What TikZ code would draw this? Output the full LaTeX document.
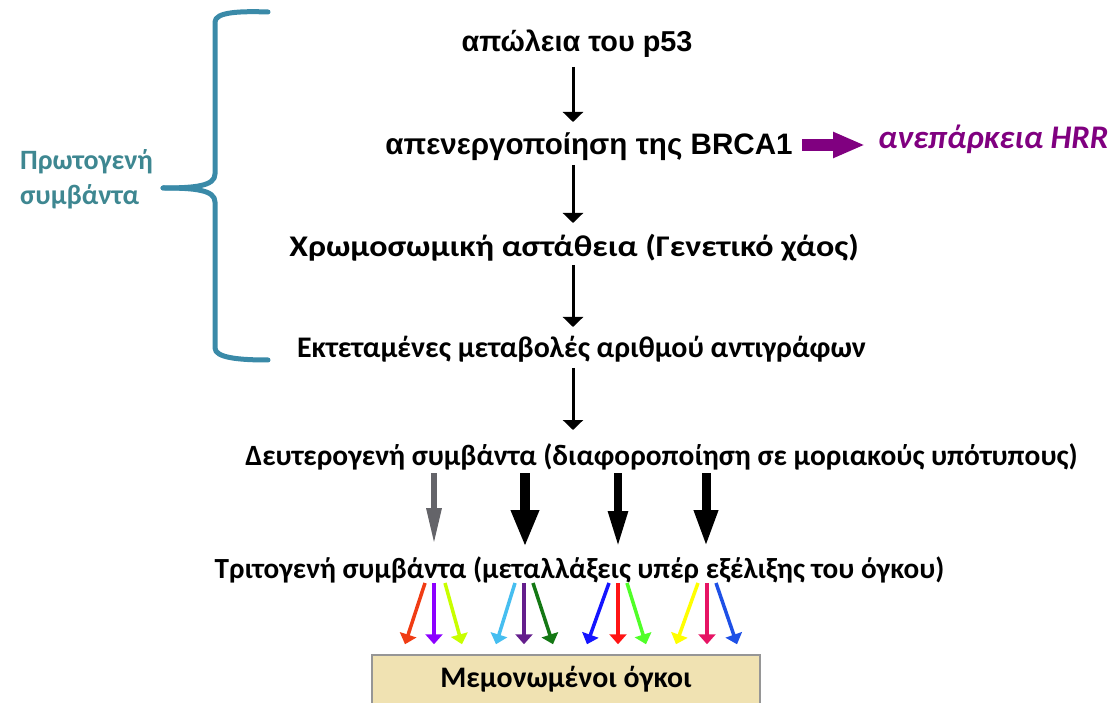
\documentclass[tikz,border=0pt]{standalone}
\usepackage{fontspec}
\usepackage{graphicx}
\setmainfont{Carlito}
\newfontfamily\arialf{Liberation Sans}
\usetikzlibrary{arrows.meta,calc}
\definecolor{bracecol}{RGB}{58,138,168}
\definecolor{primcol}{RGB}{62,135,145}
\definecolor{purp}{RGB}{128,0,128}
\definecolor{boxfill}{RGB}{240,226,178}
\definecolor{boxline}{RGB}{150,150,150}
\definecolor{grayarr}{RGB}{100,100,105}
\definecolor{cA}{RGB}{240,60,20}
\definecolor{cB}{RGB}{140,0,255}
\definecolor{cC}{RGB}{200,255,0}
\definecolor{cD}{RGB}{70,190,240}
\definecolor{cE}{RGB}{100,30,140}
\definecolor{cF}{RGB}{20,120,20}
\definecolor{cG}{RGB}{20,20,255}
\definecolor{cH}{RGB}{255,20,20}
\definecolor{cI}{RGB}{80,255,40}
\definecolor{cJ}{RGB}{255,255,0}
\definecolor{cK}{RGB}{230,20,100}
\definecolor{cL}{RGB}{30,80,230}
\begin{document}
\begin{tikzpicture}[x=1pt,y=1pt,
  arialtxt/.style={font=\arialf\bfseries\fontsize{#1}{32}\selectfont, inner sep=0pt, anchor=base},
  calitxt/.style={font=\bfseries\fontsize{#1}{33}\selectfont, inner sep=0pt, anchor=base},
  blackarr/.style={draw=black, line width=3pt, -{Triangle[length=10pt,width=20pt]}},
  fatarr/.style={draw=black, line width=#1, -{Triangle[length=37pt,width=2.6*#1]}},
  colarr/.style={line width=3.5pt, -{Triangle[length=10pt,width=17pt]}},
  purparr/.style={draw=purp, line width=12pt, -{Triangle[length=32pt,width=24pt]}},
  bracestyle/.style={draw=bracecol, line width=5pt, line cap=round, line join=round},
  boxstyle/.style={draw=boxline, line width=1.5pt, fill=boxfill, minimum width=388pt,
    text height=20pt, text depth=6pt, inner ysep=12pt, anchor=base,
    font=\bfseries\fontsize{29.8}{33}\selectfont}
]
\useasboundingbox (0,0) rectangle (1115,702);

% nodes
\node[arialtxt=28.8] (p53) at (577,650) {απώλεια του p53};
\node[arialtxt=29.6] (brca) at (589,547) {απενεργοποίηση της BRCA1};
\node[font=\bfseries\itshape\fontsize{33}{36}\selectfont, text=purp, inner sep=0pt, anchor=base west] (hrr) at (878,553) {ανεπάρκεια HRR};
\node[calitxt=30] (chrom) at (574,445) {\scalebox{1.133}[1]{Χρωμοσωμική αστάθεια (Γενετικό χάος)}};
\node[calitxt=29.9] (ext) at (581.5,344) {Εκτεταμένες μεταβολές αριθμού αντιγράφων};
\node[calitxt=29.4] (sec) at (661.5,237) {Δευτερογενή συμβάντα (διαφοροποίηση σε μοριακούς υπότυπους)};
\node[calitxt=29.2] (ter) at (579.5,124) {Τριτογενή συμβάντα (μεταλλάξεις υπέρ εξέλιξης του όγκου)};
\node[boxstyle] (iso) at (566,15) {Μεμονωμένοι όγκοι};
\node[font=\bfseries\fontsize{28}{35}\selectfont, text=primcol, inner sep=0pt, align=left, anchor=north west] (prim) at (20,553) {Πρωτογενή\\συμβάντα};

% main vertical arrows
\coordinate (cx) at (573,0);
\draw[blackarr] ($(p53.base -| cx)+(0,-15)$) -- ($(brca.base -| cx)+(0,33)$);
\draw[blackarr] ($(brca.base -| cx)+(0,-10)$) -- ($(chrom.base -| cx)+(0,34)$);
\draw[blackarr] ($(chrom.base -| cx)+(0,-8)$) -- ($(ext.base -| cx)+(0,31)$);
\draw[blackarr] ($(ext.base -| cx)+(0,-10)$) -- ($(sec.base -| cx)+(0,35)$);

% purple arrow
\draw[purparr] ($(hrr.base west |- brca.base)+(-76,10)$) -- ($(hrr.base west |- brca.base)+(-13,10)$);

% secondary -> tertiary arrows
\draw[draw=grayarr, line width=6pt, -{Triangle[length=37pt,width=14pt]}] ($(sec.base -| 434,0)+(0,-8)$) -- ($(ter.base -| 434,0)+(0,33)$);
\draw[fatarr=10pt] ($(sec.base -| 525,0)+(0,-8)$) -- ($(ter.base -| 525,0)+(0,31)$);
\draw[draw=black, line width=8pt, -{Triangle[length=37pt,width=18pt]}] ($(sec.base -| 618,0)+(0,-8)$) -- ($(ter.base -| 618,0)+(0,30)$);
\draw[draw=black, line width=9pt, -{Triangle[length=37pt,width=22pt]}] ($(sec.base -| 706,0)+(0,-8)$) -- ($(ter.base -| 706,0)+(0,31)$);

% coloured arrows
\foreach \a/\b/\c in {425/405/cA, 434/434/cB, 445/462/cC, 515/496/cD, 524/524/cE, 533/553/cF,
  609/587/cG, 618/618/cH, 627/646/cI, 698/676/cJ, 707/707/cK, 716/737/cL}
  \draw[colarr, draw=\c] ($(ter.base -| \a,0)+(0,-5)$) -- ($(iso.north -| \b,0)+(0,10)$);

% brace
\draw[bracestyle] (268,690) .. controls (240,691) and (215,690) .. (215,680) -- (215,528)
  .. controls (215,516) and (195,514) .. (163,514);
\draw[bracestyle] (163,514) .. controls (195,514) and (215,512) .. (215,500) -- (215,354)
  .. controls (215,344) and (240,342) .. (268,342);
\end{tikzpicture}
\end{document}
